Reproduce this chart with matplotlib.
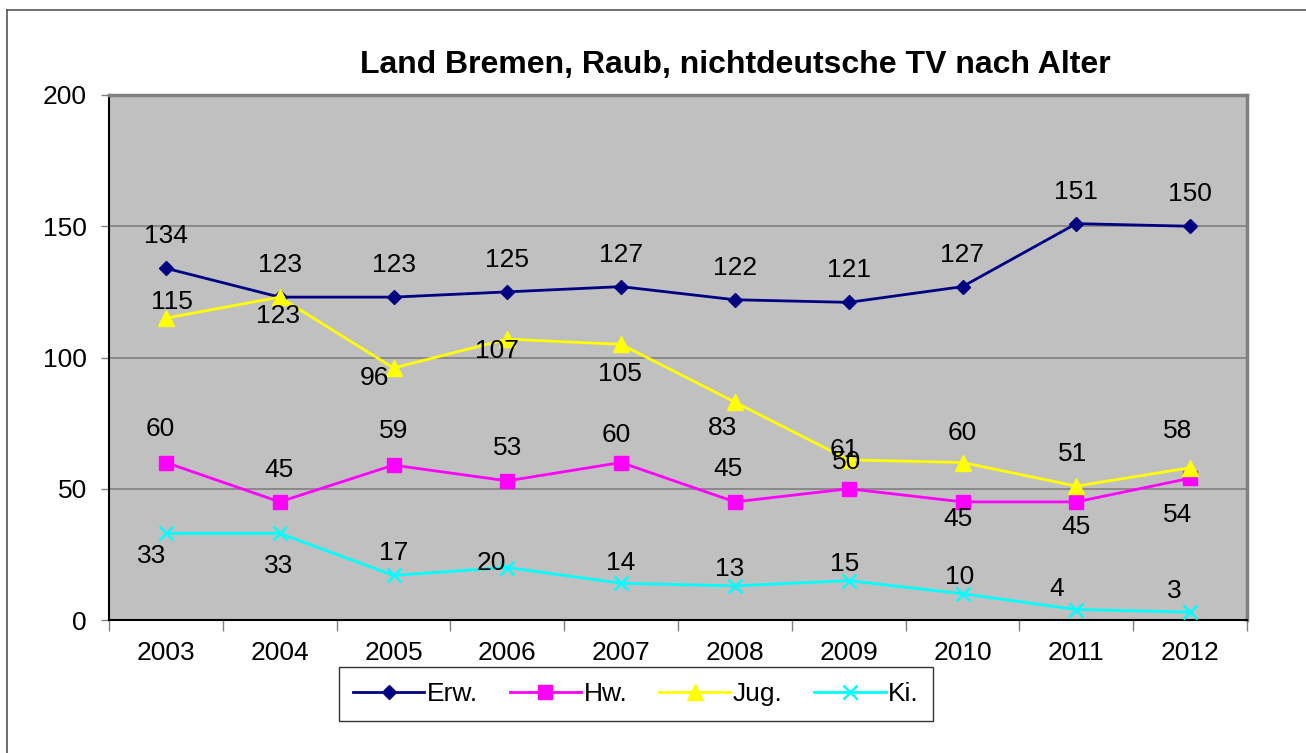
import numpy as np
import matplotlib.pyplot as plt
from matplotlib.lines import Line2D

plt.rcParams['font.family'] = ['Liberation Sans', 'DejaVu Sans']

years = ["2003", "2004", "2005", "2006", "2007", "2008", "2009", "2010", "2011", "2012"]
erw = [134, 123, 123, 125, 127, 122, 121, 127, 151, 150]
hw = [60, 45, 59, 53, 60, 45, 50, 45, 45, 54]
jug = [115, 123, 96, 107, 105, 83, 61, 60, 51, 58]
ki = [33, 33, 17, 20, 14, 13, 15, 10, 4, 3]

# label offsets in pixels (dx, dy), placed by hand like in the original sheet
erw_off = [(0, 32)] * 10
hw_off = [(-6, 33), (-1, 32), (0, 34), (0, 33), (-5, 27), (-7, 33), (-2, 27), (-5, -17), (0, -25), (-13, -37)]
jug_off = [(6, 16), (-2, -19), (-19, -10), (-10, -12), (-1, -30), (-12, -26), (-4, 10), (0, 30), (-4, 32), (-13, 37)]
ki_off = [(-14, -23), (-1, -33), (0, 22), (-16, 4), (0, 20), (-5, 17), (-4, 17), (-3, 17), (-20, 20), (-16, 21)]

series = [
    ("Erw.", erw, erw_off, "#000080", "D", 7.5),
    ("Hw.", hw, hw_off, "#FF00FF", "s", 10),
    ("Jug.", jug, jug_off, "#FFFF00", "^", 11),
    ("Ki.", ki, ki_off, "#00FFFF", "x", 10),
]

fs = 19

fig = plt.figure(figsize=(13.06, 7.53), dpi=100)
ax = fig.add_axes([109 / 1306, 1 - 620 / 753, (1247 - 109) / 1306, (620 - 95) / 753])
ax.set_facecolor("#C0C0C0")

x = np.arange(len(years))
handles = []
for name, vals, offs, col, mk, ms in series:
    mew = 1.8 if mk == "x" else 1
    ln, = ax.plot(x, vals, color=col, lw=2, marker=mk, markersize=ms,
                  markerfacecolor=col, markeredgecolor=col, markeredgewidth=mew, label=name,
                  zorder=3)
    handles.append(ln)
    for xi, v, (dx, dy) in zip(x, vals, offs):
        ax.annotate(str(v), (xi, v), xytext=(dx, dy), textcoords="offset pixels",
                    ha="center", va="center", fontsize=fs, color="black", zorder=4)

ax.set_xlim(-0.5, len(years) - 0.5)
ax.set_ylim(0, 200)
ax.set_yticks([0, 50, 100, 150, 200])
ax.yaxis.grid(True, color="#808080", lw=1.2)
ax.set_axisbelow(True)

ax.set_xticks(np.arange(-0.5, len(years)), minor=False)
ax.set_xticklabels([])
ax.set_xticks(x, minor=True)
ax.set_xticklabels(years, minor=True)
ax.tick_params(axis="x", which="major", direction="out", length=8, width=1, color="#808080")
ax.tick_params(axis="x", which="minor", length=0, pad=15, labelsize=fs)
ax.tick_params(axis="y", direction="out", length=6, width=1, color="#808080", pad=10, labelsize=fs)

ax.spines["left"].set_color("black")
ax.spines["left"].set_linewidth(1.5)
ax.spines["bottom"].set_color("black")
ax.spines["bottom"].set_linewidth(1.5)
for s in ["top", "right"]:
    ax.spines[s].set_color("#808080")
    ax.spines[s].set_linewidth(2.5)

fig.text(735 / 1306, 1 - 65 / 753, "Land Bremen, Raub, nichtdeutsche TV nach Alter",
         ha="center", va="center", fontsize=23, fontweight="bold")

leg = fig.legend(handles=handles, loc="center", bbox_to_anchor=(636 / 1306, 1 - 694 / 753),
                 ncol=4, fontsize=fs, frameon=True, fancybox=False, handlelength=2.7,
                 columnspacing=1.2, handletextpad=0.1, borderpad=0.55)
leg.get_frame().set_edgecolor("black")
leg.get_frame().set_linewidth(1)

# outer chart frame (only top and left edge visible in the original)
fig.add_artist(Line2D([7 / 1306, 7 / 1306], [0, 1 - 10 / 753], color="#555555", lw=1.2))
fig.add_artist(Line2D([7 / 1306, 1], [1 - 10 / 753, 1 - 10 / 753], color="#555555", lw=1.2))

fig.savefig("out.png", dpi=100)
